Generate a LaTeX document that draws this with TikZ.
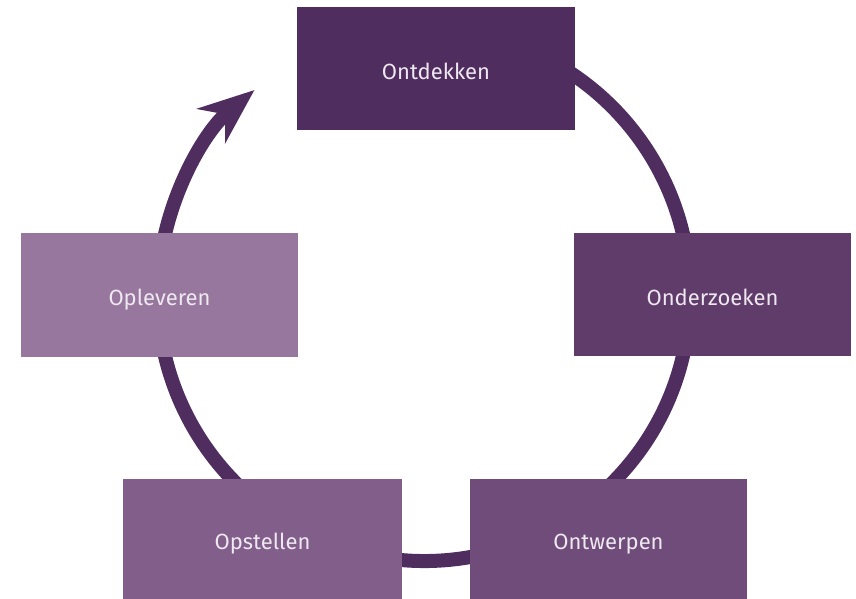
\documentclass[tikz,border=0pt]{standalone}
\usepackage{fontspec}
\setmainfont{Fira Sans}
\usetikzlibrary{arrows.meta}
\definecolor{ringc}{HTML}{4F2D5F}
\definecolor{cA}{HTML}{4F2D5E}
\definecolor{cB}{HTML}{603C6A}
\definecolor{cC}{HTML}{704C7A}
\definecolor{cD}{HTML}{825E8A}
\definecolor{cE}{HTML}{98779E}
\definecolor{txt}{HTML}{EEE8F0}
\tikzset{
  box/.style={rectangle, inner sep=0pt, text=txt, text height=22pt, text depth=0pt,
    font=\fontsize{22}{26}\selectfont},
  ring/.style={draw=ringc, line width=14pt}
}
\begin{document}
\begin{tikzpicture}[x=1pt,y=1pt]
\useasboundingbox (0,0) rectangle (856,599);
\clip (0,0) rectangle (856,599);
\fill[white] (0,0) rectangle (856,599);
\coordinate (c) at (424,304);
\draw[ring, -{Stealth[length=56pt,width=44pt,inset=18pt]}]
  ([shift={(80:266)}]c) arc[start angle=80, end angle=-230.4, radius=266];
\node[box, fill=cA, minimum width=278pt, minimum height=123pt] (ontdekken) at (436,530.5) {Ontdekken};
\node[box, fill=cB, minimum width=277pt, minimum height=123pt] (onderzoeken) at (712.5,304.5) {Onderzoeken};
\node[box, fill=cE, minimum width=277pt, minimum height=124pt] (opleveren) at (159.5,304) {Opleveren};
\node[box, fill=cD, minimum width=279pt, minimum height=120pt] (opstellen) at (262.5,60) {Opstellen};
\node[box, fill=cC, minimum width=277pt, minimum height=120pt] (ontwerpen) at (608.5,60) {Ontwerpen};
\end{tikzpicture}
\end{document}
